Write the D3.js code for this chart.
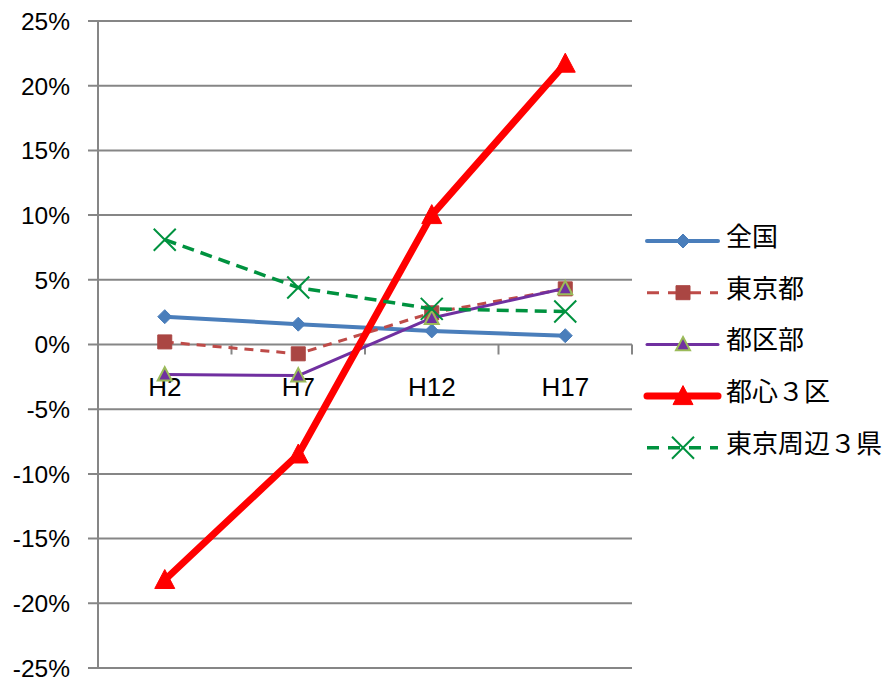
<!DOCTYPE html>
<html>
<head>
<meta charset="utf-8">
<script src="https://cdn.jsdelivr.net/npm/d3@7"></script>
<style>
  html, body { margin: 0; padding: 0; background: #fff; }
  svg { display: block; }
</style>
</head>
<body>
<svg id="chart" width="890" height="678"></svg>
<script>
// ---- data ----
const categories = ["H2", "H7", "H12", "H17"];
const seriesNames = ["全国", "東京都", "都区部", "都心３区", "東京周辺３県"];
const zenkoku   = [0.0215, 0.0157, 0.0105, 0.0068];
const tokyoto   = [0.0020, -0.0072, 0.0245, 0.0430];
const kubu      = [-0.0232, -0.0240, 0.0205, 0.0435];
const toshin3   = [-0.1820, -0.0850, 0.1000, 0.2170];
const shuhen3   = [0.0810, 0.0440, 0.0275, 0.0255];
const yTicks    = [-0.25, -0.20, -0.15, -0.10, -0.05, 0, 0.05, 0.10, 0.15, 0.20, 0.25];

const seriesData = [zenkoku, tokyoto, kubu, toshin3, shuhen3];

const styles = [
  { color: "#4A7EBB", width: 4,   dash: null,   marker: "diamond",  mfill: "#4A7EBB", mstroke: "#4A7EBB", msize: 7 },
  { color: "#BE4B48", width: 3,   dash: "9,7",  marker: "square",   mfill: "#AA4643", mstroke: "#AA4643", msize: 7 },
  { color: "#7030A0", width: 3,   dash: null,   marker: "tri",      mfill: "#7030A0", mstroke: "#9BBB59", msize: 7 },
  { color: "#FF0000", width: 7,   dash: null,   marker: "tri",      mfill: "#FF0000", mstroke: "#FF0000", msize: 10 },
  { color: "#00923F", width: 3.5, dash: "12,7", marker: "x",        mfill: "none",    mstroke: "#00923F", msize: 11 }
];

const svg = d3.select("#chart");
const PL = 98, PR = 632, PT = 21, PB = 668;

const y = d3.scaleLinear().domain([-0.25, 0.25]).range([PB, PT]);
const x = d3.scaleBand().domain(categories).range([PL, PR]);
const cx = c => x(c) + x.bandwidth() / 2;

const fmt = v => (Math.round(v * 100)).toString().replace("\u2212", "-") + "%";
const grid = "#868686";

// gridlines
svg.append("g").selectAll("line").data(yTicks).join("line")
  .attr("x1", PL - 10).attr("x2", PR)
  .attr("y1", d => y(d)).attr("y2", d => y(d))
  .attr("stroke", grid).attr("stroke-width", 2);

// y axis
const yAxis = d3.axisLeft(y).tickValues(yTicks).tickFormat(fmt).tickSize(0).tickPadding(18);
const gy = svg.append("g").attr("transform", `translate(${PL},0)`).call(yAxis);
gy.select(".domain").attr("stroke", grid).attr("stroke-width", 2).attr("d", `M0,${PT}V${PB}`);
gy.selectAll("text").attr("font-family", "Liberation Sans, Arial, sans-serif")
  .attr("font-size", 24.5).attr("fill", "#000").attr("x", -28).attr("dy", "0.34em");

// x axis at 0
const xAxis = d3.axisBottom(x).tickSize(0).tickPadding(0);
const gx = svg.append("g").attr("transform", `translate(0,${y(0)})`).call(xAxis);
gx.select(".domain").remove();
gx.selectAll(".tick line").remove();
gx.selectAll("text").attr("font-family", "Liberation Sans, Arial, sans-serif")
  .attr("font-size", 26).attr("fill", "#000").attr("dy", null).attr("y", 51);
// x tick marks at band boundaries
const bounds = categories.map(c => x(c)).concat([PR]);
svg.append("g").selectAll("line").data(bounds).join("line")
  .attr("x1", d => d).attr("x2", d => d)
  .attr("y1", y(0)).attr("y2", y(0) + 10)
  .attr("stroke", grid).attr("stroke-width", 2);

function markerPath(type, s) {
  if (type === "diamond") return `M0,${-s}L${s},0L0,${s}L${-s},0Z`;
  if (type === "square") return `M${-s},${-s}H${s}V${s}H${-s}Z`;
  if (type === "tri") return `M0,${-s * 1.05}L${s},${s * 0.85}L${-s},${s * 0.85}Z`;
  if (type === "x") return `M${-s},${-s}L${s},${s}M${-s},${s}L${s},${-s}`;
}

function drawMarker(g, st, px, py) {
  const p = g.append("path").attr("d", markerPath(st.marker, st.msize))
    .attr("transform", `translate(${px},${py})`)
    .attr("fill", st.mfill).attr("stroke", st.mstroke);
  if (st.marker === "x") p.attr("stroke-width", 2);
  else if (st.marker === "tri" && st.mstroke !== st.mfill) p.attr("stroke-width", 2);
  else p.attr("stroke-width", 1);
}

const line = d3.line().x((d, i) => cx(categories[i])).y(d => y(d));

seriesData.forEach((vals, si) => {
  const st = styles[si];
  const g = svg.append("g");
  g.append("path").datum(vals).attr("d", line)
    .attr("fill", "none").attr("stroke", st.color).attr("stroke-width", st.width)
    .attr("stroke-linejoin", "round").attr("stroke-linecap", st.dash ? "butt" : "round")
    .attr("stroke-dasharray", st.dash);
  vals.forEach((v, i) => drawMarker(g, st, cx(categories[i]), y(v)));
});

// legend
const lg = svg.append("g");
seriesNames.forEach((name, i) => {
  const st = styles[i];
  const ly = 241 + i * 51.7;
  lg.append("line").attr("x1", 647).attr("x2", 718).attr("y1", ly).attr("y2", ly)
    .attr("stroke", st.color).attr("stroke-width", st.width)
    .attr("stroke-linecap", st.dash ? "butt" : "round")
    .attr("stroke-dasharray", st.dash ? "12,9" : null);
  drawMarker(lg, st, 683, ly);
  lg.append("text").attr("x", 726).attr("y", ly - 4.5).attr("dy", "0.36em")
    .attr("font-family", "Noto Sans CJK JP, sans-serif").attr("font-size", 26)
    .attr("fill", "#000").text(name);
});
</script>
</body>
</html>
